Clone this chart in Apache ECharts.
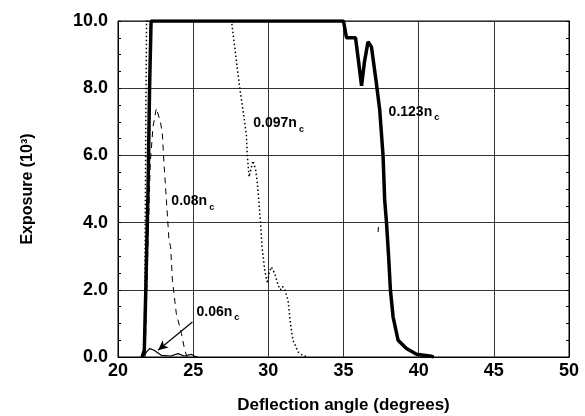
<!DOCTYPE html>
<html>
<head>
<meta charset="utf-8">
<script src="https://cdn.jsdelivr.net/npm/echarts@6/dist/echarts.min.js"></script>
<style>
  html, body { margin: 0; padding: 0; background: #fff; }
  #chart { width: 585px; height: 416px; }
</style>
</head>
<body>
<div id="chart"></div>
<script>
// curves: [angle (deg), exposure (10^3)]
const n123 = [
  [21.6, 0], [21.75, 0.2], [21.85, 2], [22.0, 5], [22.1, 8], [22.2, 10],
  [35.0, 10], [35.2, 9.5], [35.8, 9.5], [36.0, 8.8], [36.2, 8.07], [36.4, 8.8],
  [36.63, 9.38], [36.86, 9.23], [37.19, 8.14], [37.41, 7.35], [37.63, 6.0],
  [37.74, 4.67], [37.86, 4.0], [38.0, 3.0], [38.12, 2.0], [38.3, 1.19],
  [38.63, 0.5], [39.19, 0.25], [39.86, 0.08], [40.85, 0.02], [41.0, 0]
];
const n097 = [
  [21.6, 0], [21.75, 0.3], [21.8, 3], [21.85, 7], [21.9, 10], [27.55, 10],
  [27.77, 9.2], [28.1, 8.0], [28.36, 7.2], [28.54, 6.6], [28.6, 6.0],
  [28.72, 5.36], [28.85, 5.6], [28.98, 5.84], [29.16, 5.56], [29.27, 5.17],
  [29.38, 4.57], [29.47, 4.07], [29.58, 3.28], [29.76, 2.58], [29.94, 2.19],
  [30.05, 2.5], [30.2, 2.68], [30.43, 2.48], [30.65, 2.14], [30.8, 2.0],
  [30.94, 2.1], [31.1, 2.0], [31.31, 1.69], [31.47, 1.0], [31.64, 0.5],
  [31.98, 0.15], [32.3, 0.04], [32.64, 0]
];
const n08 = [
  [21.8, 0], [22.0, 3.5], [22.15, 5.8], [22.33, 6.85], [22.55, 7.4],
  [22.82, 7.0], [22.95, 6.65], [23.06, 5.76], [23.22, 4.67], [23.39, 3.48],
  [23.5, 3.28], [23.62, 2.28], [23.88, 1.29], [24.22, 0.7], [24.44, 0.2], [24.6, 0]
];
const n06 = [
  [21.66, 0], [21.9, 0.15], [22.1, 0.25], [22.4, 0.2], [22.88, 0.05],
  [23.5, 0.03], [24.0, 0.1], [24.4, 0.03], [24.88, 0.08], [25.1, 0.02], [25.3, 0]
];
const stray = [[37.3, 3.72], [37.32, 3.87]];

const xTicks = [20, 25, 30, 35, 40, 45, 50];
const yTicks = [0, 2, 4, 6, 8, 10];

const labels = [
  { name: '0.123', at: [38.0, 7.3] },
  { name: '0.097', at: [29.0, 6.96] },
  { name: '0.08', at: [23.55, 4.64] },
  { name: '0.06', at: [25.22, 1.34] }
];
const arrowFrom = [24.95, 1.04];
const arrowTo = [22.66, 0.2];

const chart = echarts.init(document.getElementById('chart'));
const font = 'Liberation Sans, Arial, sans-serif';
const ink = '#000';

const option = {
  animation: false,
  grid: {
    left: 118, right: 16, top: 21, bottom: 59, outerBoundsMode: 'none', containLabel: false,
    show: true, borderColor: ink, borderWidth: 1
  },
  xAxis: {
    type: 'value', min: xTicks[0], max: xTicks[xTicks.length - 1], interval: 5,
    axisLine: { lineStyle: { color: ink } },
    axisTick: { show: false },
    axisLabel: { color: ink, fontFamily: font, fontWeight: 'bold', fontSize: 18, margin: 5 },
    splitLine: { show: true, lineStyle: { color: '#333', width: 1 } },
    name: 'Deflection angle (degrees)', nameLocation: 'middle', nameGap: 40,
    nameTextStyle: { color: ink, fontFamily: font, fontWeight: 'bold', fontSize: 17 }
  },
  yAxis: [{
    type: 'value', min: yTicks[0], max: yTicks[yTicks.length - 1], interval: 2,
    axisLine: { show: true, lineStyle: { color: ink } },
    axisTick: { show: true, inside: true, length: 3, lineStyle: { color: ink } },
    minorTick: { show: true, splitNumber: 4, length: 3, lineStyle: { color: ink } },
    axisLabel: { color: ink, fontFamily: font, fontWeight: 'bold', fontSize: 18, margin: 10,
      formatter: v => v.toFixed(1) },
    splitLine: { show: true, lineStyle: { color: '#333', width: 1 } },
    name: 'Exposure (10³)', nameLocation: 'middle', nameGap: 82,
    nameTextStyle: { color: ink, fontFamily: font, fontWeight: 'bold', fontSize: 16 }
  }, {
    type: 'value', position: 'right', min: yTicks[0], max: yTicks[yTicks.length - 1], interval: 2,
    axisLine: { show: true, lineStyle: { color: ink } },
    axisTick: { show: true, inside: true, length: 3, lineStyle: { color: ink } },
    minorTick: { show: true, splitNumber: 4, length: 3, lineStyle: { color: ink } },
    axisLabel: { show: false },
    splitLine: { show: false }
  }],
  series: [
    { type: 'line', data: n097, showSymbol: false, lineStyle: { color: ink, width: 1.5, type: [1.5, 2.5] } },
    { type: 'line', data: n08, showSymbol: false, lineStyle: { color: ink, width: 1, type: [6, 5] } },
    {
      type: 'line', data: n06, showSymbol: false, lineStyle: { color: ink, width: 1.2 },
      markLine: {
        silent: true, symbol: ['none', 'arrow'], symbolSize: [7, 10],
        label: { show: false },
        lineStyle: { color: ink, width: 1.2, type: 'solid' },
        data: [[{ coord: arrowFrom }, { coord: arrowTo }]]
      }
    },
    { type: 'line', data: n123, showSymbol: false, lineStyle: { color: ink, width: 3.5 } },
    { type: 'line', data: stray, showSymbol: false, lineStyle: { color: ink, width: 1 } },
    {
      type: 'scatter', symbolSize: 0, silent: true,
      itemStyle: { color: ink, opacity: 1 },
      data: labels.map(l => ({ value: l.at, name: l.name })),
      label: {
        show: true, position: 'right', distance: 0, color: ink,
        formatter: p => '{m|' + p.name + 'n}{s|c}',
        rich: {
          m: { fontFamily: font, fontWeight: 'bold', fontSize: 14, color: ink },
          s: { fontFamily: font, fontWeight: 'bold', fontSize: 9, color: ink, padding: [12, 0, 0, 2] }
        }
      }
    }
  ]
};
chart.setOption(option);
</script>
</body>
</html>
